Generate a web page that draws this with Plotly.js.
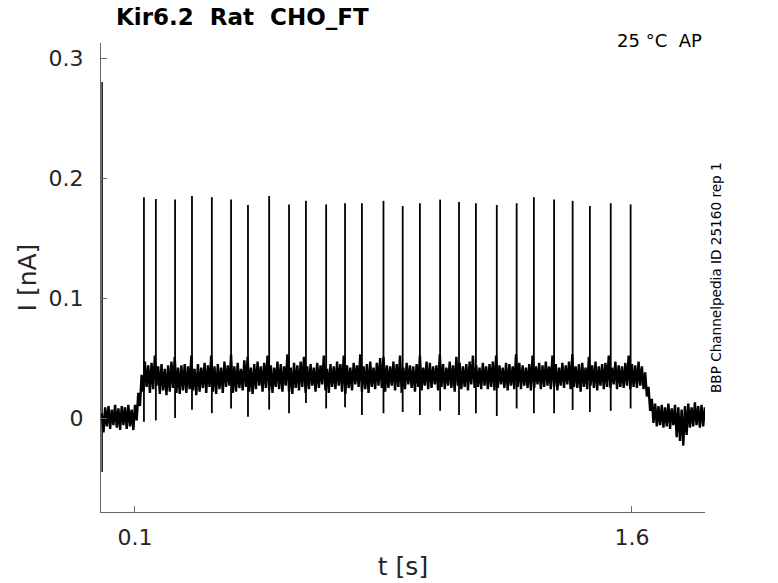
<!DOCTYPE html>
<html>
<head>
<meta charset="utf-8">
<script src="https://cdn.plot.ly/plotly-3.0.1.min.js"></script>
<style>html,body{margin:0;padding:0;background:#fff;}#chart{width:778px;height:583px;}</style>
</head>
<body>
<div id="chart"></div>
<script>
// Sampled current trace (nA), one sample every 0.005 s starting at t = 0
const sampleInterval = 0.005;
const current = [
  0.004,-0.012,0.009,-0.007,0.010,-0.009,0.007,-0.006,0.011,-0.008,
  0.008,-0.010,0.010,-0.006,0.009,-0.009,0.011,-0.007,0.007,-0.010,
  0.011,-0.002,0.021,0.010,0.036,0.022,0.047,0.026,0.044,0.021,
  0.046,0.024,0.052,0.027,0.043,0.020,0.045,0.023,0.041,0.019,
  0.044,0.022,0.047,0.025,0.051,0.021,0.042,0.020,0.044,0.023,
  0.045,0.021,0.043,0.024,0.052,0.023,0.041,0.019,0.045,0.022,
  0.042,0.025,0.046,0.021,0.044,0.026,0.052,0.022,0.043,0.020,
  0.045,0.024,0.042,0.021,0.047,0.026,0.044,0.027,0.053,0.021,
  0.043,0.022,0.046,0.025,0.041,0.023,0.048,0.026,0.051,0.022,
  0.042,0.020,0.045,0.024,0.047,0.027,0.043,0.022,0.046,0.025,
  0.052,0.023,0.044,0.021,0.042,0.026,0.047,0.024,0.045,0.022,
  0.043,0.027,0.053,0.022,0.042,0.020,0.046,0.025,0.044,0.023,
  0.047,0.026,0.051,0.021,0.043,0.024,0.045,0.027,0.042,0.022,
  0.046,0.025,0.044,0.028,0.052,0.023,0.041,0.021,0.045,0.026,
  0.043,0.024,0.047,0.027,0.045,0.022,0.052,0.020,0.044,0.025,
  0.042,0.023,0.046,0.028,0.044,0.026,0.053,0.022,0.043,0.024,
  0.045,0.021,0.047,0.026,0.042,0.024,0.046,0.027,0.050,0.025,
  0.051,0.022,0.044,0.025,0.043,0.027,0.047,0.023,0.045,0.026,
  0.052,0.021,0.042,0.024,0.046,0.028,0.044,0.025,0.043,0.022,
  0.045,0.026,0.052,0.023,0.042,0.027,0.047,0.024,0.046,0.025,
  0.043,0.028,0.044,0.023,0.053,0.026,0.045,0.024,0.042,0.027,
  0.047,0.025,0.044,0.022,0.051,0.027,0.046,0.024,0.043,0.026,
  0.045,0.023,0.047,0.028,0.052,0.025,0.044,0.026,0.042,0.024,
  0.046,0.027,0.043,0.024,0.045,0.026,0.047,0.023,0.052,0.025,
  0.044,0.028,0.042,0.025,0.046,0.023,0.045,0.027,0.043,0.024,
  0.053,0.026,0.046,0.024,0.044,0.027,0.042,0.025,0.045,0.023,
  0.052,0.025,0.043,0.028,0.046,0.024,0.044,0.026,0.047,0.027,
  0.043,0.024,0.052,0.026,0.045,0.023,0.042,0.027,0.046,0.025,
  0.044,0.028,0.047,0.024,0.053,0.026,0.043,0.025,0.045,0.022,
  0.046,0.026,0.042,0.024,0.051,0.027,0.044,0.025,0.047,0.023,
  0.043,0.027,0.045,0.024,0.046,0.026,0.052,0.025,0.042,0.028,
  0.047,0.024,0.044,0.026,0.043,0.025,0.046,0.027,0.052,0.024,
  0.045,0.026,0.044,0.025,0.047,0.027,0.043,0.024,0.038,0.018,
  0.026,0.006,0.016,-0.004,0.012,-0.007,0.010,-0.006,0.011,-0.008,
  0.009,-0.007,0.012,-0.009,0.008,-0.006,0.011,-0.016,0.009,-0.019,
  0.007,-0.023,0.010,-0.014,0.012,-0.008,0.009,-0.007,0.013,-0.006,
  0.010,-0.008,0.011,-0.007,0.009
];

// Action-potential currents: time (s), peak (nA), trough (nA)
const spikeT = [0.127,0.163,0.221,0.272,0.332,0.390,0.441,0.505,0.565,0.616,0.677,0.734,0.785,0.850,
                0.908,0.960,1.021,1.078,1.129,1.192,1.252,1.304,1.365,1.421,1.473,1.536,1.596];
const spikePeak = [0.184,0.1825,0.182,0.185,0.184,0.182,0.1775,0.185,0.178,0.181,0.178,0.179,0.179,0.181,
                   0.1767,0.179,0.182,0.180,0.179,0.1775,0.179,0.184,0.182,0.181,0.1767,0.179,0.178];
const spikeDip = [-0.003,-0.002,0.000,0.007,0.004,0.008,0.001,0.007,0.004,0.0125,0.008,0.009,0.0025,0.004,
                  0.005,0.0025,0.006,0.0025,0.004,0.0017,0.008,0.004,0.004,0.0067,0.005,0.006,0.008];

// Onset transient
const onsetT = [0.0008];
const onsetPeak = [0.28];
const onsetDip = [-0.045];

const xTicks = [0.1, 1.6];
const xTickText = ['0.1', '1.6'];
const yTicks = [0, 0.1, 0.2, 0.3];
const yTickText = ['0', '0.1', '0.2', '0.3'];

const traceT = current.map((v, i) => i * sampleInterval);

function segments(ts, tops, bottoms) {
  const xs = [], ys = [];
  ts.forEach((t, i) => { xs.push(t, t, null); ys.push(bottoms[i], tops[i], null); });
  return {x: xs, y: ys};
}
const sp = segments(spikeT, spikePeak, spikeDip);
const on = segments(onsetT, onsetPeak, onsetDip);

const traces = [
  {x: traceT, y: current, type: 'scatter', mode: 'lines', line: {color: '#000', width: 2.4}, hoverinfo: 'skip'},
  {x: sp.x, y: sp.y, type: 'scatter', mode: 'lines', line: {color: '#000', width: 1.8}, connectgaps: false, hoverinfo: 'skip'},
  {x: on.x, y: on.y, type: 'scatter', mode: 'lines', line: {color: '#000', width: 1.4}, connectgaps: false, hoverinfo: 'skip'}
];

const FONT = 'DejaVu Sans, sans-serif';
const layout = {
  width: 778, height: 583,
  margin: {l: 101, r: 73, t: 43, b: 71, pad: 0},
  paper_bgcolor: '#fff', plot_bgcolor: '#fff',
  showlegend: false,
  font: {family: FONT, color: '#262626'},
  xaxis: {
    range: [-0.0026, 1.8205], showgrid: false, zeroline: false,
    showline: true, linecolor: '#666', linewidth: 1, mirror: false,
    ticks: 'inside', ticklen: 6, tickcolor: '#666', tickwidth: 1,
    tickvals: xTicks, ticktext: xTickText, tickfont: {size: 22, family: FONT, color: '#262626'},
    ticklabelstandoff: 6,
    title: {text: 't [s]', font: {size: 25, family: FONT, color: '#262626'}, standoff: 8}
  },
  yaxis: {
    range: [-0.0783, 0.3125], showgrid: false, zeroline: false,
    showline: true, linecolor: '#666', linewidth: 1, mirror: false,
    ticks: 'inside', ticklen: 6, tickcolor: '#666', tickwidth: 1,
    tickvals: yTicks, ticktext: yTickText, tickfont: {size: 22, family: FONT, color: '#262626'},
    ticklabelstandoff: 12,
    title: {text: 'I [nA]', font: {size: 25, family: FONT, color: '#262626'}, standoff: 4}
  },
  annotations: [
    {text: '<b>Kir6.2\u00A0\u00A0Rat\u00A0\u00A0CHO_FT</b>', xref: 'paper', yref: 'paper', x: (114-101)/604, y: 1 + (43-17)/469,
     xanchor: 'left', yanchor: 'middle', showarrow: false, font: {size: 23, family: FONT, color: '#000'}},
    {text: '25\u00A0°C\u00A0\u00A0AP', xref: 'paper', yref: 'paper', x: (704-101)/604, y: 1 - (41-43)/469,
     xanchor: 'right', yanchor: 'middle', showarrow: false, font: {size: 18, family: FONT, color: '#000'}},
    {text: 'BBP Channelpedia ID 25160 rep 1', xref: 'paper', yref: 'paper', x: 1 + (716-705)/604, y: (512-278)/469,
     xanchor: 'center', yanchor: 'middle', textangle: -90, showarrow: false, font: {size: 13.6, family: FONT, color: '#000'}}
  ]
};

Plotly.newPlot('chart', traces, layout, {staticPlot: true, displayModeBar: false});
</script>
</body>
</html>
